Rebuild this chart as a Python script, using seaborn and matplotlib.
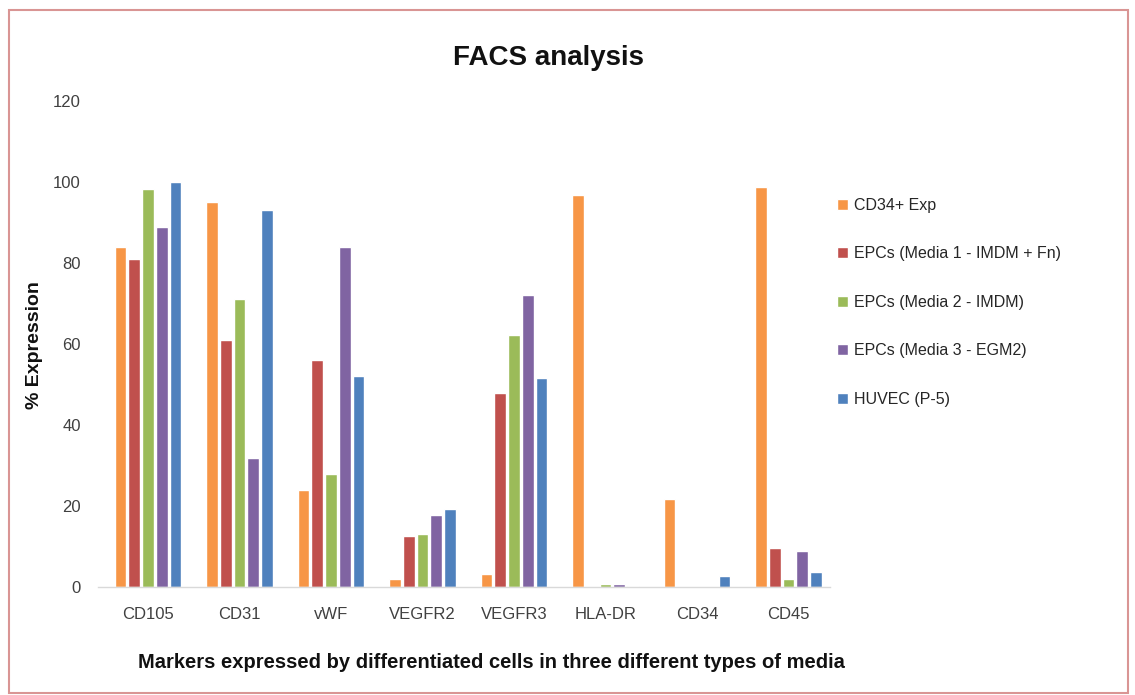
import numpy as np
import pandas as pd
import matplotlib
matplotlib.use("Agg")
import matplotlib.pyplot as plt
from matplotlib.patches import Rectangle
import seaborn as sns

markers = ["CD105", "CD31", "vWF", "VEGFR2", "VEGFR3", "HLA-DR", "CD34", "CD45"]
series = ["CD34+ Exp", "EPCs (Media 1 - IMDM + Fn)", "EPCs (Media 2 - IMDM)",
          "EPCs (Media 3 - EGM2)", "HUVEC (P-5)"]

cd34_exp = [84, 95, 24, 2, 3.3, 96.7, 21.8, 98.7]
media1 = [81, 61, 56, 12.7, 48, 0, 0, 9.8]
media2 = [98.2, 71, 28, 13.1, 62.3, 0.9, 0, 2.1]
media3 = [88.8, 32, 84, 17.8, 72.2, 0.7, 0, 9]
huvec = [100, 93, 52, 19.4, 51.7, 0.4, 2.9, 3.8]

colors = ["#F79646", "#C0504D", "#9BBB59", "#8064A2", "#4F81BD"]

# long table for seaborn
rows = []
for name, vals in zip(series, [cd34_exp, media1, media2, media3, huvec]):
    for m, v in zip(markers, vals):
        rows.append({"marker": m, "series": name, "value": v})
df = pd.DataFrame(rows)

sns.set_style("white")
plt.rcParams["font.family"] = ["Liberation Sans", "DejaVu Sans"]

fig = plt.figure(figsize=(11.35, 6.95), dpi=100)
ax = fig.add_axes([0.086, 0.155, 0.645, 0.700])

sns.barplot(data=df, x="marker", y="value", hue="series", order=markers,
            hue_order=series, palette=colors, width=0.75, gap=0.15,
            saturation=1, ax=ax, errorbar=None)

ax.set_ylim(0, 120)
ax.set_yticks(np.arange(0, 121, 20))
ax.set_xlim(-0.55, 7.45)
for s in ["top", "right", "left"]:
    ax.spines[s].set_visible(False)
ax.spines["bottom"].set_color("#D9D9D9")
ax.spines["bottom"].set_linewidth(1.0)
ax.tick_params(axis="both", length=0, labelsize=12, colors="#404040")
ax.tick_params(axis="x", pad=14)
ax.tick_params(axis="y", pad=12)
ax.set_xlabel("")
ax.set_ylabel("")

leg = ax.legend(loc="upper left", bbox_to_anchor=(0.99, 0.83), frameon=False,
                fontsize=11.5, labelspacing=2.1, handlelength=0.7,
                handleheight=0.7, handletextpad=0.4)
for t in leg.get_texts():
    t.set_color("#262626")

fig.text(0.483, 0.916, "FACS analysis", ha="center", va="center",
         fontsize=20, fontweight="bold", color="#111111")
fig.text(0.030, 0.503, "% Expression", ha="center", va="center",
         rotation=90, fontsize=14, fontweight="bold", color="#111111")
fig.text(0.433, 0.047, "Markers expressed by differentiated cells in three different types of media",
         ha="center", va="center", fontsize=14.5, fontweight="bold", color="#111111")

fig.patches.append(Rectangle((0.0075, 0.003), 0.986, 0.983, transform=fig.transFigure,
                             fill=False, edgecolor="#D99594", linewidth=1.5))

fig.savefig("out.png", dpi=100)
